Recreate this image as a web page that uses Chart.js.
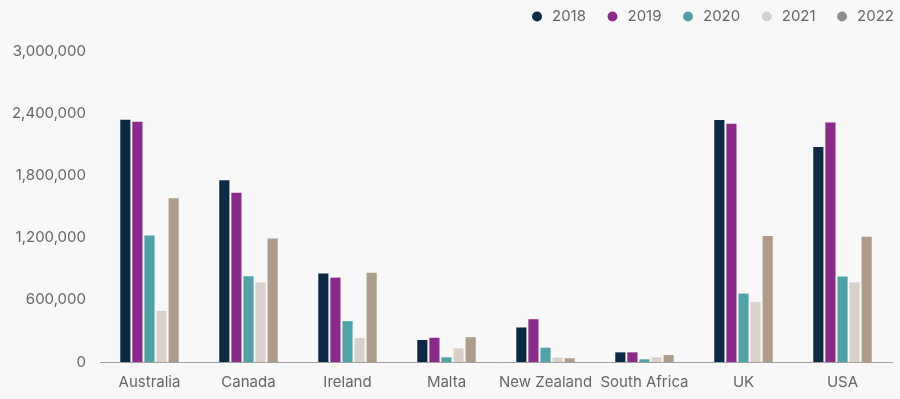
<!DOCTYPE html>
<html>
<head>
<meta charset="utf-8">
<script src="https://cdn.jsdelivr.net/npm/chart.js@4/dist/chart.umd.min.js"></script>
<style>
  html, body { margin: 0; padding: 0; background: #f8f8f9; }
  #wrap { width: 900px; height: 399px; }
</style>
</head>
<body>
<div id="wrap"><canvas id="myChart"></canvas></div>
<script>
// Países de destino
var categorias = ['Australia', 'Canada', 'Ireland', 'Malta', 'New Zealand', 'South Africa', 'UK', 'USA'];

// Valores por ano
var anos = ['2018', '2019', '2020', '2021', '2022'];
var valores2018 = [2336000, 1753000, 853000, 212000, 333000, 93000, 2334000, 2074000];
var valores2019 = [2317000, 1632000, 814000, 234000, 413000, 93000, 2298000, 2311000];
var valores2020 = [1221000, 827000, 394000, 45000, 138000, 26000, 660000, 824000];
var valores2021 = [493000, 769000, 231000, 132000, 41000, 45000, 577000, 769000];
var valores2022 = [1580000, 1192000, 862000, 240000, 36000, 67000, 1215000, 1209000];

// Eixo y
var marcasY = [0, 600000, 1200000, 1800000, 2400000, 3000000];

var coresBarras = ['#0c2a45', '#8a2a8a', '#4fa3a6', '#d9d1c9', '#ad9c89'];
var coresLegenda = ['#0c2a45', '#8a2a8a', '#4fa3a6', '#d2d1ce', '#8e8e8e'];

var series = [valores2018, valores2019, valores2020, valores2021, valores2022];

var datasets = anos.map(function (ano, i) {
    return {
        label: ano,
        data: series[i],
        backgroundColor: coresBarras[i],
        categoryPercentage: 0.61,
        barPercentage: 0.84
    };
});

// Espaço extra por baixo da legenda e legenda encostada à direita
var ajusteLegenda = {
    id: 'ajusteLegenda',
    beforeInit: function (chart) {
        var fitOriginal = chart.legend.fit;
        chart.legend.fit = function () {
            fitOriginal.bind(chart.legend)();
            this.height += 17;
        };
    },
    afterLayout: function (chart) {
        chart.legend.left += 21;
        chart.legend.right += 21;
    }
};

var ctx = document.getElementById('myChart').getContext('2d');
var myChart = new Chart(ctx, {
    type: 'bar',
    data: {
        labels: categorias,
        datasets: datasets
    },
    plugins: [ajusteLegenda],
    options: {
        responsive: true,
        maintainAspectRatio: false,
        animation: false,
        layout: { padding: { left: 13, right: 8, top: -10, bottom: -3 } },
        plugins: {
            tooltip: { enabled: false },
            legend: {
                position: 'top',
                align: 'end',
                labels: {
                    usePointStyle: true,
                    pointStyle: 'circle',
                    boxWidth: 15,
                    boxHeight: 7,
                    padding: 19,
                    color: '#666',
                    font: { family: 'Inter', size: 15 },
                    generateLabels: function (chart) {
                        return chart.data.datasets.map(function (ds, i) {
                            return {
                                text: ds.label,
                                fillStyle: coresLegenda[i],
                                strokeStyle: coresLegenda[i],
                                lineWidth: 0,
                                pointStyle: 'circle',
                                fontColor: '#666',
                                hidden: false,
                                datasetIndex: i
                            };
                        });
                    }
                }
            }
        },
        scales: {
            x: {
                grid: { display: false, drawTicks: false },
                border: { display: true, color: '#a0a0a0' },
                ticks: {
                    color: '#666',
                    font: { family: 'Inter', size: 15 },
                    padding: 11,
                    maxRotation: 0,
                    minRotation: 0,
                    autoSkip: false
                }
            },
            y: {
                min: 0,
                max: 3000000,
                afterBuildTicks: function (axis) {
                    axis.ticks = marcasY.map(function (v) { return { value: v }; });
                },
                afterFit: function (axis) {
                    axis.width = 87;
                },
                grid: { display: false, drawTicks: false },
                border: { display: false },
                ticks: {
                    color: '#666',
                    font: { family: 'Inter', size: 15 },
                    padding: 14,
                    callback: function (v) { return v.toLocaleString('en-US'); }
                }
            }
        }
    }
});
</script>
</body>
</html>
